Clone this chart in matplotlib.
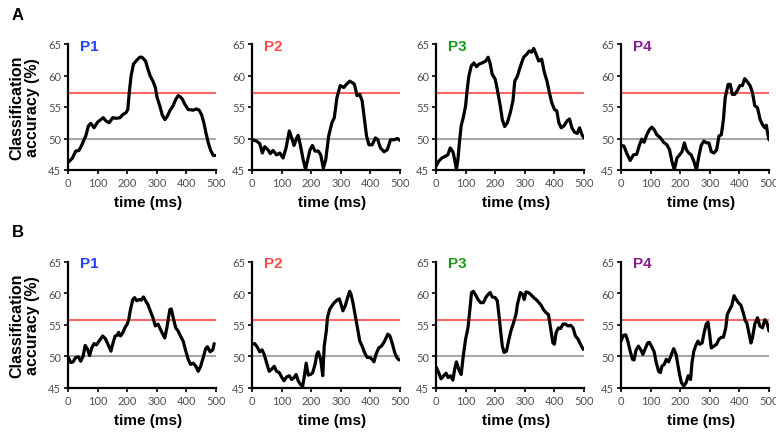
import matplotlib
matplotlib.use("Agg")
import matplotlib.pyplot as plt

# ---- data: classification accuracy (%) over time (ms) ----
chance_level = 50.0
threshold_a = 57.3
threshold_b = 55.7

panel_names = ["P1", "P2", "P3", "P4"]
panel_colors = ["#1f43ff", "#ff4c4c", "#1c9a1c", "#8a1f8c"]

x_ticks = [0, 100, 200, 300, 400, 500]
y_ticks = [45, 50, 55, 60, 65]

a1_t = [0, 15, 26, 37, 46, 54, 60, 69, 77, 88, 100, 111, 119, 128, 139, 151, 162, 176, 185, 196,
        202, 207, 213, 221, 230, 242, 250, 262, 270, 278, 287, 295, 301, 310, 318, 327, 334, 344,
        355, 364, 372, 380, 387, 395, 406, 423, 434, 443, 451, 459, 466, 474, 482, 491, 497]
a1_v = [46.2, 46.9, 48.0, 48.1, 48.9, 49.8, 50.4, 52.0, 52.4, 51.7, 52.6, 53.0, 53.3, 52.8, 52.5,
        53.3, 53.2, 53.3, 53.8, 54.1, 54.6, 57.3, 59.9, 61.8, 62.3, 62.9, 62.9, 62.3, 61.0, 59.9,
        59.1, 58.1, 56.5, 55.2, 53.8, 53.0, 53.4, 54.4, 55.2, 56.2, 56.8, 56.6, 56.2, 55.4, 54.6,
        54.5, 54.7, 54.5, 53.8, 52.5, 50.9, 49.3, 48.1, 47.3, 47.3]

a2_t = [0, 15, 26, 35, 43, 54, 62, 71, 83, 94, 105, 115, 126, 134, 142, 151, 156, 164, 173, 181,
        188, 196, 204, 213, 224, 232, 241, 249, 259, 270, 278, 287, 298, 310, 319, 330, 338, 346,
        355, 364, 372, 380, 387, 395, 406, 417, 425, 434, 446, 457, 468, 480, 491, 500]
a2_v = [49.8, 49.6, 49.2, 47.7, 48.7, 48.2, 47.6, 48.1, 47.4, 47.7, 46.9, 48.5, 51.2, 50.1, 48.9,
        50.1, 50.5, 48.8, 46.6, 45.1, 46.6, 48.2, 48.9, 48.0, 48.0, 47.4, 45.3, 46.6, 50.4, 52.5,
        53.3, 56.5, 58.4, 58.1, 58.6, 59.1, 58.9, 58.6, 56.8, 57.0, 56.0, 53.0, 50.4, 49.0, 49.0,
        50.1, 49.8, 48.5, 47.9, 48.2, 49.8, 49.8, 50.0, 49.7]

a3_t = [0, 9, 20, 32, 40, 48, 57, 62, 69, 74, 79, 85, 92, 100, 105, 111, 119, 128, 137, 145, 156,
        168, 176, 182, 190, 200, 207, 217, 224, 232, 241, 251, 260, 266, 275, 284, 296, 307, 315,
        323, 330, 338, 347, 357, 366, 375, 383, 391, 400, 408, 415, 423, 432, 443, 451, 459, 468,
        477, 485, 493, 500]
a3_v = [45.6, 46.4, 46.9, 47.2, 47.4, 48.5, 47.9, 46.9, 45.1, 46.6, 49.3, 52.0, 53.3, 55.2, 57.6,
        59.9, 61.5, 62.0, 61.4, 61.8, 62.0, 62.3, 62.9, 62.1, 60.2, 59.4, 57.8, 55.2, 53.0, 51.9,
        52.5, 54.1, 56.0, 59.1, 59.9, 61.3, 62.9, 63.4, 63.9, 63.7, 64.3, 63.4, 62.3, 62.6, 60.5,
        59.1, 57.3, 55.7, 54.6, 54.4, 52.5, 51.7, 52.0, 52.8, 53.1, 51.7, 51.0, 50.8, 51.7, 50.6,
        50.1]

a4_t = [0, 10, 19, 31, 42, 53, 62, 70, 78, 87, 96, 104, 112, 121, 133, 144, 155, 164, 172, 180,
        189, 198, 206, 214, 221, 229, 237, 246, 255, 263, 271, 280, 289, 297, 305, 314, 323, 331,
        339, 346, 352, 362, 369, 376, 384, 393, 402, 410, 418, 427, 436, 444, 452, 461, 470, 478,
        486, 491, 495, 500]
a4_v = [48.9, 48.8, 47.7, 46.5, 47.4, 47.5, 48.9, 49.9, 49.4, 50.6, 51.4, 51.8, 51.4, 50.6, 50.1,
        49.4, 49.0, 48.2, 46.4, 45.0, 46.9, 47.4, 47.9, 49.3, 48.2, 47.7, 47.4, 46.4, 45.0, 47.2,
        48.9, 49.6, 49.3, 49.3, 47.9, 47.7, 48.2, 50.4, 50.6, 53.0, 56.5, 58.6, 58.6, 57.0, 57.0,
        57.6, 58.4, 58.4, 59.5, 59.0, 58.4, 57.3, 55.2, 54.9, 53.0, 52.2, 51.7, 52.1, 50.9, 49.8]

b1_t = [0, 9, 17, 26, 35, 43, 51, 58, 66, 73, 80, 88, 96, 105, 117, 126, 134, 145, 151, 159, 166,
        171, 177, 185, 192, 200, 205, 211, 219, 225, 232, 241, 247, 255, 262, 270, 278, 287, 295,
        304, 310, 318, 327, 334, 344, 349, 357, 364, 372, 380, 389, 398, 406, 414, 423, 432, 440,
        448, 457, 465, 471, 480, 489, 494]
b1_v = [49.9, 49.0, 49.1, 49.8, 49.9, 49.2, 50.0, 51.7, 51.1, 50.1, 51.3, 52.0, 51.8, 52.4, 53.2,
        52.8, 52.0, 50.8, 51.9, 53.2, 53.3, 53.8, 53.2, 53.7, 54.5, 55.1, 55.8, 57.4, 59.0, 59.3,
        58.8, 59.0, 58.9, 59.4, 58.8, 58.2, 57.2, 56.1, 54.8, 55.1, 54.5, 53.7, 52.9, 54.5, 57.4,
        57.5, 55.8, 54.5, 54.0, 53.2, 52.4, 50.8, 49.5, 48.7, 48.9, 48.4, 47.6, 48.4, 49.8, 51.2,
        51.5, 50.7, 51.0, 52.0]

b2_t = [0, 9, 17, 26, 34, 41, 49, 58, 66, 75, 83, 92, 100, 108, 117, 126, 134, 142, 149, 156, 164,
        171, 177, 183, 190, 198, 205, 213, 219, 224, 232, 239, 244, 251, 255, 262, 270, 278, 287,
        295, 301, 307, 315, 323, 330, 334, 341, 349, 357, 364, 372, 380, 389, 398, 406, 412, 419,
        428, 437, 446, 451, 459, 466, 474, 482, 489, 497]
b2_v = [51.9, 52.0, 51.5, 50.7, 51.0, 50.3, 49.0, 47.6, 47.9, 48.4, 47.6, 47.4, 46.7, 46.1, 46.7,
        46.9, 46.3, 46.6, 47.1, 46.1, 45.5, 45.2, 46.9, 48.9, 47.0, 47.1, 47.4, 48.7, 50.3, 50.7,
        49.5, 46.9, 51.6, 54.0, 56.1, 57.4, 58.0, 58.5, 58.9, 59.1, 58.2, 57.2, 58.0, 59.3, 60.3,
        59.9, 58.5, 56.4, 54.3, 52.4, 51.6, 50.6, 49.8, 49.8, 49.5, 49.1, 50.3, 51.3, 51.6, 52.2,
        52.7, 53.5, 53.2, 52.0, 50.6, 49.8, 49.4]

b3_t = [0, 9, 17, 26, 34, 41, 49, 57, 63, 69, 77, 85, 92, 100, 108, 114, 120, 126, 134, 142, 151,
        160, 168, 176, 183, 190, 200, 207, 213, 219, 224, 230, 238, 245, 253, 262, 270, 275, 285,
        293, 298, 304, 312, 320, 330, 338, 346, 355, 363, 372, 380, 387, 395, 400, 406, 414, 421,
        429, 437, 446, 455, 463, 471, 480, 488, 497]
b3_v = [48.3, 47.4, 46.4, 46.9, 47.3, 46.6, 46.9, 46.2, 47.9, 49.1, 47.9, 47.1, 50.0, 52.7, 54.5,
        57.2, 60.1, 60.3, 59.7, 59.0, 58.5, 58.5, 59.3, 59.8, 60.1, 59.4, 59.3, 58.8, 56.4, 53.7,
        51.6, 50.6, 50.8, 52.4, 54.0, 55.3, 56.6, 58.2, 60.1, 59.8, 59.0, 60.2, 60.1, 59.8, 59.3,
        59.0, 58.6, 58.1, 57.4, 56.9, 56.6, 54.5, 52.1, 51.9, 53.8, 54.5, 54.4, 55.1, 55.1, 54.8,
        54.9, 54.5, 53.2, 52.7, 51.9, 51.1]

b4_t = [0, 8, 16, 23, 31, 39, 44, 51, 59, 67, 74, 82, 90, 96, 104, 112, 119, 127, 133, 138, 146,
        153, 161, 169, 178, 186, 193, 198, 204, 212, 220, 227, 235, 240, 246, 252, 260, 266, 274,
        282, 288, 294, 299, 305, 314, 323, 331, 339, 346, 354, 359, 367, 374, 382, 388, 396, 405,
        413, 420, 425, 433, 439, 444, 452, 461, 469, 478, 486, 493, 500]
b4_v = [52.4, 53.3, 53.4, 52.4, 50.8, 49.5, 49.4, 51.0, 51.6, 51.0, 50.3, 51.2, 52.1, 52.2, 51.5,
        50.7, 49.0, 47.6, 47.4, 48.4, 48.7, 49.5, 49.1, 50.1, 51.2, 50.3, 48.4, 47.1, 45.8, 45.3,
        45.8, 46.9, 46.3, 49.0, 50.8, 51.6, 52.4, 51.9, 52.1, 54.0, 55.1, 55.4, 53.7, 51.3, 51.6,
        51.9, 52.7, 53.0, 53.0, 54.5, 56.6, 57.4, 58.0, 59.6, 59.1, 58.5, 58.1, 56.9, 55.6, 55.3,
        53.5, 52.1, 52.9, 55.1, 56.1, 54.8, 54.5, 55.8, 55.3, 54.0]

rows = [
    ("A", threshold_a, [(a1_t, a1_v), (a2_t, a2_v), (a3_t, a3_v), (a4_t, a4_v)]),
    ("B", threshold_b, [(b1_t, b1_v), (b2_t, b2_v), (b3_t, b3_v), (b4_t, b4_v)]),
]

# ---- figure layout (pixels -> figure fractions) ----
W, H = 776, 435
fig = plt.figure(figsize=(W / 100, H / 100), dpi=100)
fig.patch.set_facecolor("white")

label_font = "Liberation Sans"
tick_font = "Lato"

col_left_px = [68, 252, 436, 621]
ax_w_px = 148
ax_h_px = 126
row_top_px = [45, 262.7]
letter_y_px = [20, 237]

for r, (letter, thr, series) in enumerate(rows):
    top = row_top_px[r]
    fig.text(12 / W, 1 - letter_y_px[r] / H, letter, fontsize=12, fontweight="bold",
             family=label_font, ha="left", va="baseline")
    for c, (t, v) in enumerate(series):
        ax = fig.add_axes([col_left_px[c] / W, 1 - (top + ax_h_px) / H,
                           ax_w_px / W, ax_h_px / H])
        ax.set_xlim(0, 500)
        ax.set_ylim(45, 65)
        ax.axhline(chance_level, color="#a8a8a8", lw=1.5, zorder=1)
        ax.axhline(thr, color="#ff6666", lw=1.5, zorder=1)
        ax.plot(t, v, color="black", lw=2.3, solid_joinstyle="round",
                solid_capstyle="round", zorder=3)

        for side in ("top", "right"):
            ax.spines[side].set_visible(False)
        for side in ("left", "bottom"):
            ax.spines[side].set_linewidth(1.6)
            ax.spines[side].set_color("black")

        ax.set_xticks(x_ticks)
        ax.set_yticks(y_ticks)
        ax.tick_params(axis="both", direction="out", length=3, width=1.2,
                       color="black", labelsize=8, labelcolor="#505050", pad=2)
        for lab in ax.get_xticklabels() + ax.get_yticklabels():
            lab.set_family(tick_font)

        ax.set_xlabel("time (ms)", fontsize=11, fontweight="bold", family=label_font)
        ax.xaxis.set_label_coords(0.54, -0.20)

        ax.text(0.08, 0.955, panel_names[c], transform=ax.transAxes,
                color=panel_colors[c], fontsize=11, fontweight="bold",
                family=label_font, ha="left", va="baseline")

        if c == 0:
            ax.set_ylabel("Classification\naccuracy (%)", fontsize=11.5,
                          fontweight="bold", family=label_font, linespacing=1.05)
            ax.yaxis.set_label_coords(-0.19, 0.5)

fig.savefig("out.png", dpi=100, facecolor="white")
